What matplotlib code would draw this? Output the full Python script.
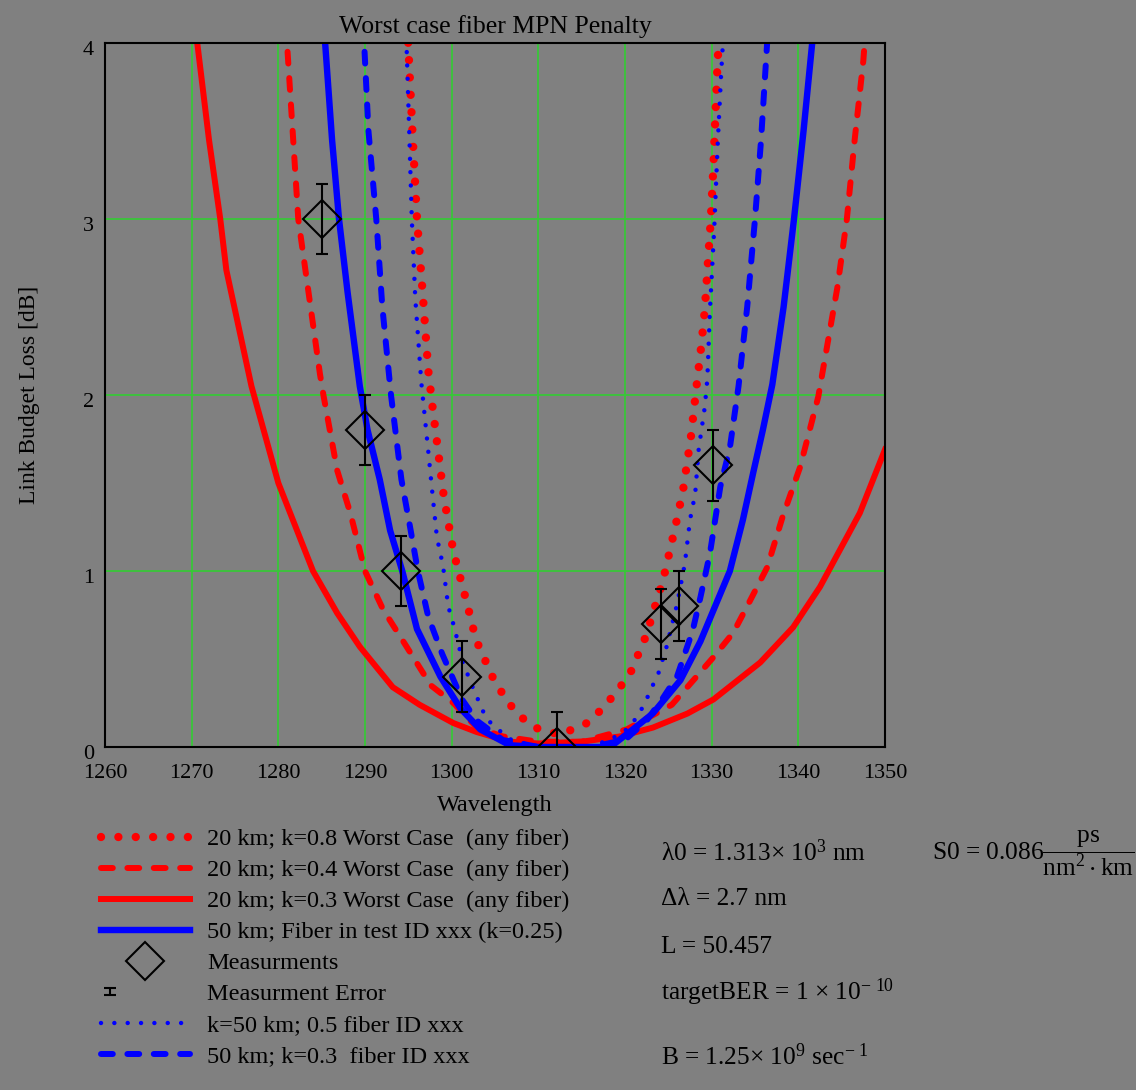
import matplotlib
matplotlib.use('Agg')
import matplotlib.pyplot as plt
import matplotlib.transforms as mtransforms
from matplotlib.legend_handler import HandlerErrorbar

plt.rcParams['font.family'] = ['Liberation Serif', 'DejaVu Serif']
plt.rcParams['mathtext.fontset'] = 'custom'
plt.rcParams['mathtext.rm'] = 'Liberation Serif'
plt.rcParams['mathtext.it'] = 'Liberation Serif'
plt.rcParams['mathtext.default'] = 'regular'
plt.rcParams['lines.scale_dashes'] = False

BG = '#808080'
RED = '#ff0000'
BLUE = '#0000ff'
GRID = '#33cc33'
FS_TICK = 16
FS = 17.5

# 20 km, k=0.8 worst case (red dotted)
r08_x = [1294.9, 1295.0, 1295.5, 1296.0, 1296.7, 1297.3, 1297.8, 1299.1, 1300.2, 1301.8,
         1302.8, 1304.7, 1305.9, 1307.5, 1309.6, 1312.5, 1315.8, 1317.6, 1319.3, 1320.7,
         1322.5, 1323.1, 1324.4, 1325.8, 1326.7, 1327.6, 1328.3, 1328.8, 1329.2, 1329.6,
         1329.9, 1330.2, 1330.6, 1330.8, 1330.9]
r08_y = [4.1, 3.98, 3.47, 3.0, 2.55, 2.14, 1.93, 1.42, 1.11, 0.81,
         0.61, 0.40, 0.30, 0.19, 0.11, 0.07, 0.14, 0.23, 0.33, 0.43,
         0.64, 0.74, 0.95, 1.25, 1.46, 1.76, 2.07, 2.28, 2.48, 2.78,
         3.0, 3.3, 3.8, 4.0, 4.1]

# 20 km, k=0.4 worst case (red dashed)
r04_x = [1280.9, 1281.0, 1282.3, 1284.8, 1285.2, 1286.8, 1288.3, 1290.0, 1292.1, 1294.8,
         1297.6, 1300.2, 1302.9, 1305.9, 1310.0, 1315.0, 1320.2, 1325.4, 1327.9, 1330.2,
         1332.5, 1334.1, 1336.4, 1338.2, 1340.2, 1342.3, 1344.5, 1345.6, 1346.5, 1347.5,
         1347.8]
r04_y = [4.1, 4.0, 3.0, 2.12, 2.0, 1.57, 1.33, 1.0, 0.78, 0.57,
         0.35, 0.25, 0.11, 0.06, 0.03, 0.03, 0.10, 0.24, 0.38, 0.51,
         0.65, 0.80, 1.02, 1.31, 1.59, 1.99, 2.61, 3.0, 3.45, 3.9,
         4.1]

# 20 km, k=0.3 worst case (red solid)
r03_x = [1270.4, 1272.0, 1273.3, 1274.0, 1276.9, 1280.0, 1284.0, 1286.8, 1289.4, 1293.2,
         1296.3, 1300.2, 1302.9, 1306.7, 1310.0, 1315.0, 1319.4, 1323.2, 1327.2, 1330.2,
         1335.6, 1339.4, 1342.5, 1344.8, 1347.1, 1350.0]
r03_y = [4.1, 3.45, 3.0, 2.71, 2.05, 1.50, 1.0, 0.76, 0.57, 0.34,
         0.24, 0.136, 0.085, 0.03, 0.02, 0.03, 0.06, 0.11, 0.19, 0.27,
         0.48, 0.68, 0.91, 1.12, 1.33, 1.69]

# 50 km, fiber in test (k=0.25, blue solid)
b025_x = [1285.3, 1285.4, 1286.2, 1287.0, 1288.0, 1289.4, 1290.3, 1291.7, 1292.9, 1294.3,
          1296.0, 1298.7, 1301.0, 1303.3, 1306.7, 1310.0, 1315.0, 1318.3, 1320.9, 1323.2,
          1326.4, 1328.7, 1330.4, 1332.1, 1333.6, 1334.8, 1335.9, 1337.0, 1338.3, 1339.5,
          1340.6, 1341.6, 1341.7]
b025_y = [4.1, 4.0, 3.45, 3.0, 2.58, 2.05, 1.80, 1.52, 1.23, 1.0,
          0.67, 0.40, 0.22, 0.10, 0.01, 0.0, 0.0, 0.0, 0.10, 0.19,
          0.38, 0.60, 0.80, 1.0, 1.29, 1.56, 1.80, 2.06, 2.5, 3.0,
          3.5, 4.0, 4.1]

# 50 km, k=0.5 (blue dotted)
b05_x = [1294.7, 1294.8, 1295.1, 1295.4, 1295.8, 1296.5, 1297.3, 1297.8, 1298.3, 1299.0,
         1299.6, 1300.3, 1301.3, 1302.5, 1303.3, 1304.0, 1305.6, 1306.9, 1310.0, 1316.0,
         1318.6, 1320.2, 1321.4, 1322.3, 1323.1, 1323.8, 1324.8, 1326.0, 1326.9, 1327.5,
         1328.1, 1328.5, 1329.2, 1329.5, 1329.8, 1330.3, 1330.7, 1331.1, 1331.3, 1331.4]
b05_y = [4.1, 3.98, 3.5, 3.0, 2.55, 2.07, 1.68, 1.43, 1.19, 1.03,
         0.80, 0.68, 0.48, 0.33, 0.24, 0.16, 0.09, 0.04, 0.0, 0.0,
         0.05, 0.10, 0.17, 0.25, 0.34, 0.41, 0.57, 0.81, 1.04, 1.29,
         1.44, 1.69, 1.93, 2.09, 2.48, 2.95, 3.43, 3.83, 4.0, 4.1]

# 50 km, k=0.3 (blue dashed)
b03_x = [1289.8, 1289.9, 1290.4, 1291.3, 1292.0, 1293.0, 1294.2, 1295.2, 1296.1, 1297.3,
         1298.9, 1301.2, 1302.9, 1305.9, 1310.0, 1316.0, 1320.0, 1322.5, 1324.4, 1326.0,
         1327.8, 1328.7, 1329.8, 1331.0, 1332.1, 1333.1, 1334.1, 1335.0, 1335.7, 1336.4,
         1336.5]
b03_y = [4.1, 4.0, 3.5, 3.0, 2.5, 2.0, 1.52, 1.25, 1.0, 0.74,
         0.53, 0.27, 0.15, 0.04, 0.0, 0.0, 0.04, 0.15, 0.28, 0.40,
         0.66, 0.85, 1.1, 1.48, 1.70, 2.05, 2.5, 3.0, 3.45, 4.0,
         4.1]

# measurements
meas_x = [1285.0, 1290.0, 1294.2, 1301.2, 1312.1, 1324.2, 1326.2, 1330.2]
meas_y = [3.0, 1.8, 1.0, 0.4, 0.0, 0.7, 0.8, 1.6]
meas_err = 0.2

xticks = list(range(1260, 1351, 10))
yticks = [0, 1, 2, 3, 4]


class LeftErrorbar(HandlerErrorbar):
    # error bar icon sits at the left of the legend handle, like the original
    def get_xdata(self, legend, xdescent, ydescent, width, height, fontsize):
        xdata, xdata_marker = super().get_xdata(legend, xdescent, ydescent,
                                                width, height, fontsize)
        return xdata, [-xdescent + 0.1 * width]


fig = plt.figure(figsize=(11.36, 10.9), dpi=100, facecolor=BG)
ax = fig.add_axes([105/1136, 1 - 747/1090, 780/1136, 704/1090])
ax.set_facecolor(BG)

l1, = ax.plot(r08_x, r08_y, color=RED, lw=6.0, dashes=(0.01, 12.5),
              dash_capstyle='round', solid_capstyle='round')
l2, = ax.plot(r04_x, r04_y, color=RED, lw=4.3, dashes=(8.5, 10.5),
              dash_capstyle='round')
l3, = ax.plot(r03_x, r03_y, color=RED, lw=4.3)
l4, = ax.plot(b025_x, b025_y, color=BLUE, lw=4.6)
l7, = ax.plot(b05_x, b05_y, color=BLUE, lw=3.2, dashes=(0.01, 9.6),
              dash_capstyle='round')
l8, = ax.plot(b03_x, b03_y, color=BLUE, lw=4.3, dashes=(8.5, 10.5),
              dash_capstyle='round')

eb = ax.errorbar(meas_x, meas_y, yerr=meas_err, fmt='none', ecolor='black',
                 elinewidth=1.5, capsize=4, capthick=1.5, zorder=5)
l5, = ax.plot(meas_x, meas_y, 'D', mfc='none', mec='black', ms=19, mew=1.5, zorder=6)

ax.set_xlim(1260, 1350)
ax.set_ylim(0, 4)
ax.set_xticks(xticks)
ax.set_yticks(yticks)
ax.grid(True, color=GRID, lw=1.2)
ax.set_axisbelow(True)
ax.tick_params(length=0, labelsize=FS_TICK, colors='black')
ax.tick_params(axis='x', pad=12)
ax.tick_params(axis='y', pad=8)
shift = mtransforms.ScaledTranslation(0, -0.05, fig.dpi_scale_trans)
for lab in ax.get_yticklabels():
    lab.set_transform(lab.get_transform() + shift)
for s in ax.spines.values():
    s.set_linewidth(1.5)
    s.set_color('black')

ax.set_title('Worst case fiber MPN Penalty', fontsize=18.5, pad=7)
ax.set_xlabel('Wavelength', fontsize=FS, labelpad=9)
ax.set_ylabel('Link Budget Loss [dB]', fontsize=17, labelpad=31)

handles = [l1, l2, l3, l4, l5, eb, l7, l8]
labels = ['20 km; k=0.8 Worst Case  (any fiber)',
          '20 km; k=0.4 Worst Case  (any fiber)',
          '20 km; k=0.3 Worst Case  (any fiber)',
          '50 km; Fiber in test ID xxx (k=0.25)',
          'Measurments',
          'Measurment Error',
          'k=50 km; 0.5 fiber ID xxx',
          '50 km; k=0.3  fiber ID xxx']
fig.legend(handles, labels, loc='upper left', bbox_to_anchor=(101/1136, 1 - 828/1090),
           frameon=False, fontsize=FS, handlelength=3.66, handletextpad=0.7,
           labelspacing=0.37, borderpad=0, borderaxespad=0,
           handler_map={eb: LeftErrorbar(xerr_size=0.16)})

tx = 661/1136
FR = 18.3
fig.text(tx, 1 - 861/1090, 'λ0 = 1.313× 10$^{3}$ nm', fontsize=FR, va='baseline')
fig.text(tx, 1 - 905/1090, 'Δλ = 2.7 nm', fontsize=FR, va='baseline')
fig.text(tx, 1 - 953/1090, 'L = 50.457', fontsize=FR, va='baseline')
fig.text(tx, 1 - 1000/1090, 'targetBER = 1 × 10$^{-\\ 10}$', fontsize=FR, va='baseline')
fig.text(tx, 1 - 1065/1090, 'B = 1.25× 10$^{9}$ sec$^{-\\ 1}$', fontsize=FR, va='baseline')
fig.text(932/1136, 1 - 853/1090, r'S0 = 0.086$\dfrac{ps}{nm^{2}\cdot km}$',
         fontsize=FR, va='center')

fig.savefig('out.png', dpi=100, facecolor=BG)
